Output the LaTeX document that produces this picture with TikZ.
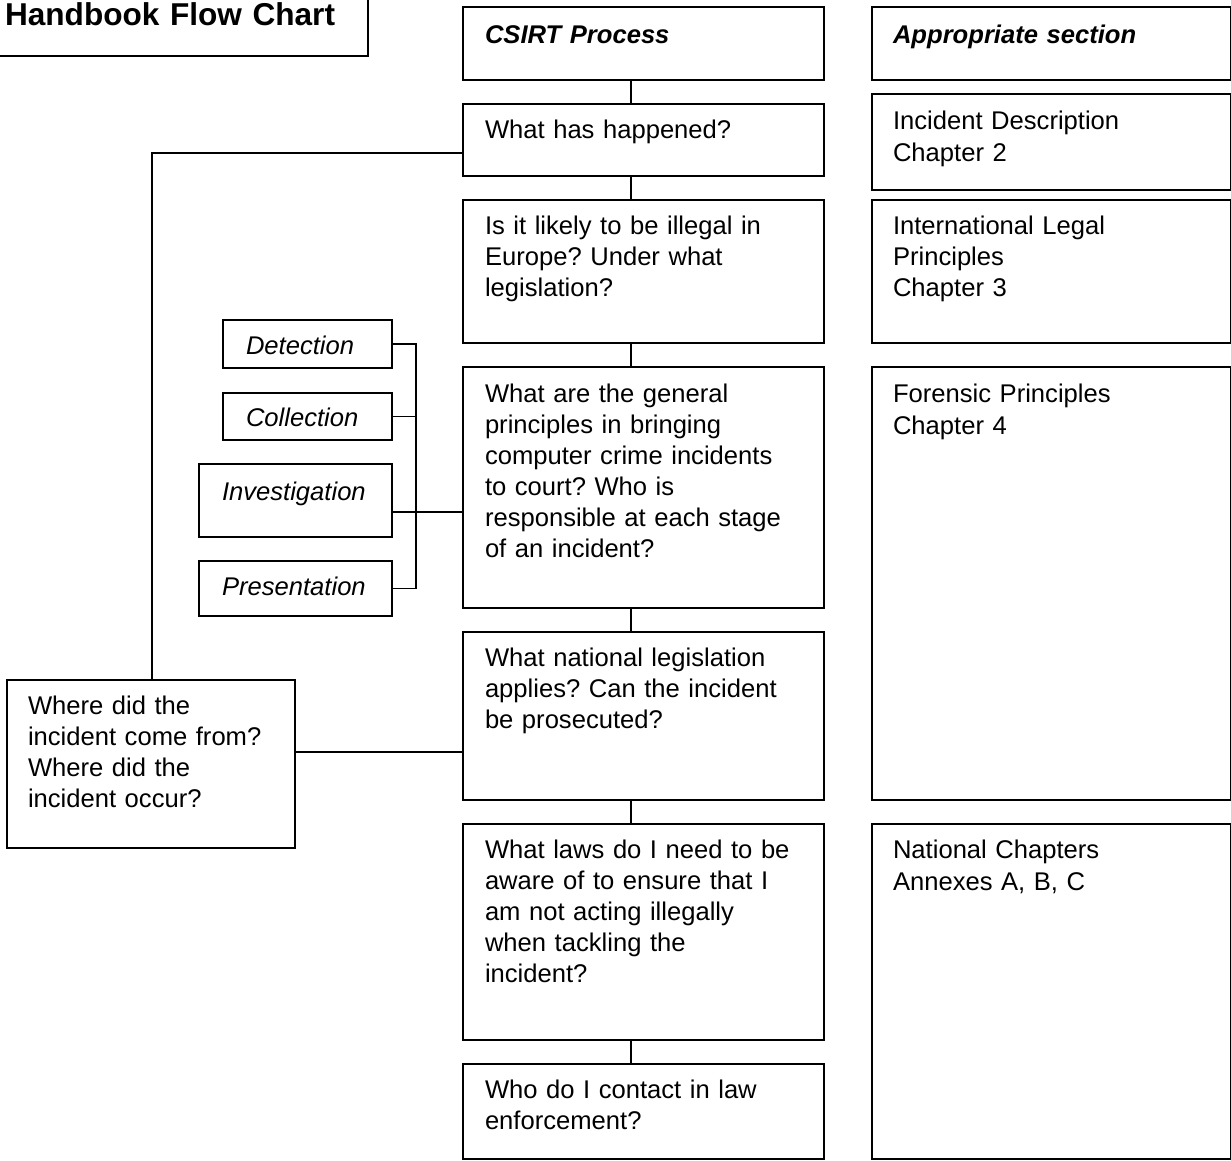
\documentclass[tikz,border=0pt]{standalone}
\usepackage{fontspec}
\setmainfont{Liberation Sans}
\frenchspacing
\begin{document}
\begin{tikzpicture}[x=0.75pt,y=-0.75pt,
  box/.style={draw, line width=1.4pt, inner sep=0pt, outer sep=0pt, anchor=north west},
  txt/.style={anchor=base west, inner sep=0pt, outer sep=0pt, align=left, text width=260pt, font=\fontsize{19.2}{23.25}\selectfont},
  conn/.style={line width=1.3pt}]
\useasboundingbox (0,0) rectangle (1231,1160);
\clip (0,0) rectangle (1231,1160);
% title
\node[box, minimum width={378*0.75pt}, minimum height={66*0.75pt}] (title) at (-10,-10) {};
\node[txt, font=\fontsize{23.7}{28}\selectfont\bfseries] (titlet) at (5,26) {Handbook Flow Chart};
% centre column
\node[box, minimum width={361*0.75pt}, minimum height={73*0.75pt}] (c0) at (463,7) {};
\node[box, minimum width={361*0.75pt}, minimum height={72*0.75pt}] (c1) at (463,104) {};
\node[box, minimum width={361*0.75pt}, minimum height={143*0.75pt}] (c2) at (463,200) {};
\node[box, minimum width={361*0.75pt}, minimum height={241*0.75pt}] (c3) at (463,367) {};
\node[box, minimum width={361*0.75pt}, minimum height={168*0.75pt}] (c4) at (463,632) {};
\node[box, minimum width={361*0.75pt}, minimum height={216*0.75pt}] (c5) at (463,824) {};
\node[box, minimum width={361*0.75pt}, minimum height={95*0.75pt}] (c6) at (463,1064) {};
% right column
\node[box, minimum width={358.5*0.75pt}, minimum height={73*0.75pt}] (r0) at (872,7) {};
\node[box, minimum width={358.5*0.75pt}, minimum height={96*0.75pt}] (r1) at (872,94) {};
\node[box, minimum width={358.5*0.75pt}, minimum height={143*0.75pt}] (r2) at (872,200) {};
\node[box, minimum width={358.5*0.75pt}, minimum height={433*0.75pt}] (r3) at (872,367) {};
\node[box, minimum width={358.5*0.75pt}, minimum height={335*0.75pt}] (r4) at (872,824) {};
% left boxes
\node[box, minimum width={169*0.75pt}, minimum height={48*0.75pt}] (det) at (223,320) {};
\node[box, minimum width={169*0.75pt}, minimum height={47*0.75pt}] (col) at (223,393) {};
\node[box, minimum width={193*0.75pt}, minimum height={73*0.75pt}] (inv) at (199,464) {};
\node[box, minimum width={193*0.75pt}, minimum height={55*0.75pt}] (pres) at (199,561) {};
\node[box, minimum width={288*0.75pt}, minimum height={168*0.75pt}] (where) at (7,680) {};
% texts
\node[txt, font=\fontsize{19.2}{23.25}\selectfont\bfseries\itshape] (c0t) at (485,43) {CSIRT Process};
\node[txt, font=\fontsize{19.2}{23.25}\selectfont\bfseries\itshape] (r0t) at (893,43) {Appropriate section};
\node[txt] (c1t) at (485,138) {What has happened?};
\node[txt] (c2t) at (485,234) {Is it likely to be illegal in\\Europe? Under what\\legislation?};
\node[txt] (c3t) at (485,402) {What are the general\\principles in bringing\\computer crime incidents\\to court? Who is\\responsible at each stage\\of an incident?};
\node[txt] (c4t) at (485,666) {What national legislation\\applies? Can the incident\\be prosecuted?};
\node[txt] (c5t) at (485,858) {What laws do I need to be\\aware of to ensure that I\\am not acting illegally\\when tackling the\\incident?};
\node[txt] (c6t) at (485,1098) {Who do I contact in law\\enforcement?};
\node[txt, font=\fontsize{19.2}{24.5}\selectfont] (r1t) at (893,129) {Incident Description\\Chapter 2};
\node[txt] (r2t) at (893,234) {International Legal\\Principles\\Chapter 3};
\node[txt, font=\fontsize{19.2}{24.5}\selectfont] (r3t) at (893,402) {Forensic Principles\\Chapter 4};
\node[txt, font=\fontsize{19.2}{24.5}\selectfont] (r4t) at (893,858) {National Chapters\\Annexes A, B, C};
\node[txt, text width=200pt] (wheret) at (28,714) {Where did the\\incident come from?\\Where did the\\incident occur?};
\node[txt, text width=120pt, font=\fontsize{19.2}{23.25}\selectfont\itshape] (dett) at (246,354) {Detection};
\node[txt, text width=120pt, font=\fontsize{19.2}{23.25}\selectfont\itshape] (colt) at (246,426) {Collection};
\node[txt, text width=130pt, font=\fontsize{19.2}{23.25}\selectfont\itshape] (invt) at (222,500) {Investigation};
\node[txt, text width=130pt, font=\fontsize{19.2}{23.25}\selectfont\itshape] (prest) at (222,595) {Presentation};
% connectors
\coordinate (vx) at (631,0);
\draw[conn] (c0.south -| vx) -- (c1.north -| vx);
\draw[conn] (c1.south -| vx) -- (c2.north -| vx);
\draw[conn] (c2.south -| vx) -- (c3.north -| vx);
\draw[conn] (c3.south -| vx) -- (c4.north -| vx);
\draw[conn] (c4.south -| vx) -- (c5.north -| vx);
\draw[conn] (c5.south -| vx) -- (c6.north -| vx);
\coordinate (lx) at (152,153);
\draw[conn] (where.north -| lx) -- (lx) -- (lx -| c1.west);
\coordinate (wy) at (0,752);
\draw[conn] (where.east |- wy) -- (c4.west |- wy);
\coordinate (bx) at (416,0);
\draw[conn] (det.east) -- (det.east -| bx) -- (pres.east -| bx) -- (pres.east);
\draw[conn] (col.east) -- (col.east -| bx);
\coordinate (iy) at (0,512);
\draw[conn] (inv.east |- iy) -- (c3.west |- iy);
\end{tikzpicture}
\end{document}
